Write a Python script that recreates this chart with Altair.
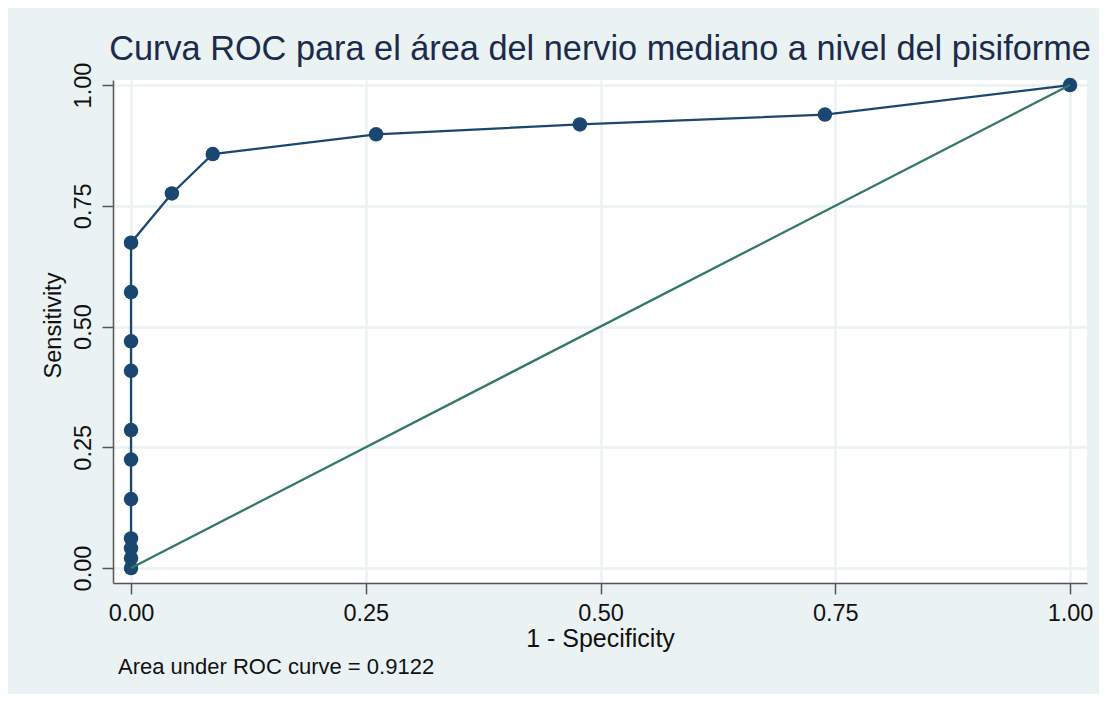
import altair as alt
import pandas as pd

# ROC points (1 - specificity, sensitivity)
fpr = [0, 0, 0, 0, 0, 0, 0, 0, 0, 0, 0, 0.0435, 0.087, 0.261, 0.478, 0.739, 1.0]
sens = [0, 0.0204, 0.0408, 0.0612, 0.1429, 0.2245, 0.2857, 0.4082, 0.4694,
        0.5714, 0.6735, 0.7755, 0.8571, 0.898, 0.9184, 0.9388, 1.0]
ref_x = [0, 1]
ref_y = [0, 1]
tick_values = [0, 0.25, 0.5, 0.75, 1.0]
title_text = "Curva ROC para el área del nervio mediano a nivel del pisiforme"
note_text = "Area under ROC curve = 0.9122"

roc = pd.DataFrame({"fpr": fpr, "sens": sens, "order": list(range(len(fpr)))})
ref = pd.DataFrame({"fpr": ref_x, "sens": ref_y})
note = pd.DataFrame({"t": [note_text]})

FONT = "Liberation Sans"
NAVY = "#1a476f"
GREEN = "#32776a"
BG = "#eaf2f3"

xscale = alt.Scale(domain=[-0.0192, 1.0181], nice=False, zero=False)
yscale = alt.Scale(domain=[-0.031, 1.0104], nice=False, zero=False)

xaxis = alt.Axis(values=tick_values, format=".2f", title="1 - Specificity",
                 labelFontSize=23.5, labelPadding=7, tickSize=11,
                 titleFontSize=25, titleFontWeight="normal",
                 titleX=487, titleY=63, titleBaseline="alphabetic", titleAlign="center")
yaxis = alt.Axis(values=tick_values, format=".2f", title="Sensitivity",
                 labelFontSize=23.5, labelAngle=270, labelAlign="center",
                 labelBaseline="bottom", labelPadding=7, tickSize=11,
                 titleFontSize=23.5, titleFontWeight="normal", titleAngle=270,
                 titleX=-53, titleY=245, titleBaseline="alphabetic", titleAlign="center")

base = alt.Chart(roc)
line = base.mark_line(color=NAVY, strokeWidth=2.3).encode(
    x=alt.X("fpr:Q", scale=xscale, axis=xaxis),
    y=alt.Y("sens:Q", scale=yscale, axis=yaxis),
    order="order:Q",
)
pts = base.mark_circle(color=NAVY, size=210, opacity=1).encode(
    x=alt.X("fpr:Q", scale=xscale),
    y=alt.Y("sens:Q", scale=yscale),
)
diag = alt.Chart(ref).mark_line(color=GREEN, strokeWidth=2.3).encode(
    x=alt.X("fpr:Q", scale=xscale),
    y=alt.Y("sens:Q", scale=yscale),
)
note_mark = alt.Chart(note).mark_text(
    align="left", baseline="alphabetic", fontSize=22, font=FONT, color="#111111"
).encode(x=alt.value(5), y=alt.value(594), text="t:N")

chart = alt.layer(line, pts, diag, note_mark).properties(
    width=974, height=503,
    title=alt.TitleParams(title_text, fontSize=34.3, font=FONT, fontWeight="normal",
                          color="#1c2b4a", anchor="middle", baseline="alphabetic",
                          offset=-32),
    autosize=alt.AutoSizeParams(type="none"),
    padding={"left": 105, "top": 72, "right": 12, "bottom": 111},
).configure(
    background=BG, font=FONT,
).configure_view(
    fill="white", stroke=None, strokeWidth=0,
).configure_axis(
    grid=True, gridColor=BG, gridWidth=2.5,
    domainColor="#555555", domainWidth=1.5,
    tickColor="#555555", tickWidth=1.5,
    labelColor="#111111", titleColor="#111111",
    labelFont=FONT, titleFont=FONT,
)

chart.save("out.html", embed_options={"renderer": "svg", "actions": False})
